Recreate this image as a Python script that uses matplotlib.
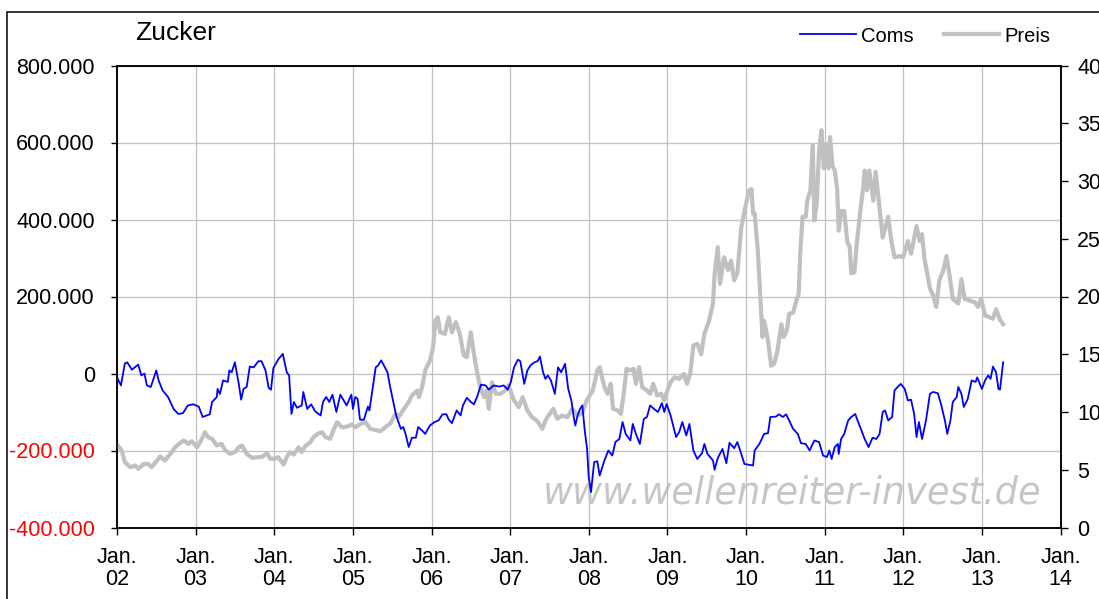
import matplotlib
matplotlib.use("Agg")
import matplotlib.pyplot as plt
from matplotlib.lines import Line2D
from matplotlib.patches import Rectangle
import pandas as pd

plt.rcParams['font.family'] = ['Liberation Sans', 'DejaVu Sans']

title = 'Zucker'
watermark = 'www.wellenreiter-invest.de'

# Commitments (Coms), decimal year / value in thousands of contracts
coms_t = [2002.00, 2002.05, 2002.10, 2002.13, 2002.19, 2002.27, 2002.31, 2002.35, 2002.38, 2002.43,
          2002.50, 2002.53, 2002.58, 2002.65, 2002.72, 2002.78, 2002.84, 2002.90, 2002.97, 2003.04,
          2003.09, 2003.14, 2003.18, 2003.21, 2003.27, 2003.28, 2003.31, 2003.35, 2003.41, 2003.43,
          2003.46, 2003.50, 2003.55, 2003.58, 2003.61, 2003.65, 2003.69, 2003.74, 2003.80, 2003.84,
          2003.89, 2003.93, 2003.96, 2003.99, 2004.05, 2004.11, 2004.16, 2004.19, 2004.22, 2004.25,
          2004.29, 2004.35, 2004.37, 2004.42, 2004.47, 2004.52, 2004.59, 2004.62, 2004.66, 2004.70,
          2004.74, 2004.79, 2004.84, 2004.92, 2004.98, 2005.00, 2005.03, 2005.06, 2005.09, 2005.14,
          2005.19, 2005.21, 2005.29, 2005.32, 2005.36, 2005.44, 2005.47, 2005.52, 2005.55, 2005.61,
          2005.64, 2005.67, 2005.71, 2005.75, 2005.80, 2005.83, 2005.88, 2005.92, 2005.98, 2006.04,
          2006.09, 2006.14, 2006.19, 2006.22, 2006.26, 2006.32, 2006.37, 2006.40, 2006.45, 2006.50,
          2006.54, 2006.58, 2006.63, 2006.69, 2006.73, 2006.79, 2006.86, 2006.92, 2006.97, 2007.01,
          2007.05, 2007.10, 2007.13, 2007.18, 2007.22, 2007.26, 2007.31, 2007.35, 2007.38, 2007.42,
          2007.45, 2007.48, 2007.52, 2007.57, 2007.61, 2007.65, 2007.70, 2007.74, 2007.78, 2007.81,
          2007.83, 2007.86, 2007.89, 2007.92, 2007.95, 2007.98, 2008.00, 2008.03, 2008.07, 2008.11,
          2008.14, 2008.20, 2008.25, 2008.30, 2008.34, 2008.39, 2008.43, 2008.47, 2008.53, 2008.56,
          2008.60, 2008.65, 2008.70, 2008.74, 2008.78, 2008.83, 2008.88, 2008.93, 2008.96, 2008.99,
          2009.04, 2009.11, 2009.15, 2009.19, 2009.24, 2009.28, 2009.33, 2009.38, 2009.44, 2009.47,
          2009.51, 2009.58, 2009.60, 2009.64, 2009.70, 2009.75, 2009.79, 2009.85, 2009.89, 2009.94,
          2009.98, 2010.09, 2010.11, 2010.17, 2010.23, 2010.28, 2010.31, 2010.38, 2010.42, 2010.47,
          2010.51, 2010.54, 2010.60, 2010.66, 2010.70, 2010.76, 2010.81, 2010.87, 2010.93, 2010.98,
          2011.03, 2011.06, 2011.09, 2011.13, 2011.17, 2011.18, 2011.21, 2011.25, 2011.30, 2011.34,
          2011.39, 2011.42, 2011.47, 2011.51, 2011.56, 2011.61, 2011.66, 2011.70, 2011.74, 2011.77,
          2011.81, 2011.86, 2011.89, 2011.93, 2011.97, 2012.02, 2012.06, 2012.10, 2012.14, 2012.17,
          2012.20, 2012.24, 2012.29, 2012.34, 2012.38, 2012.44, 2012.48, 2012.53, 2012.56, 2012.60,
          2012.63, 2012.68, 2012.70, 2012.74, 2012.77, 2012.82, 2012.87, 2012.92, 2012.94, 2013.00,
          2013.04, 2013.08, 2013.11, 2013.14, 2013.18, 2013.21, 2013.23, 2013.27]
coms_k = [-10, -31, 26, 29, 10, 23, -5, 0, -31, -35,
          8, -18, -44, -61, -92, -105, -103, -83, -80, -86,
          -113, -109, -106, -74, -61, -40, -53, -18, -22, 8,
          3, 29, -27, -68, -40, -35, 18, 16, 32, 32,
          8, -37, -42, 14, 36, 51, 3, -5, -105, -74,
          -89, -83, -48, -92, -80, -98, -109, -74, -61, -74,
          -55, -100, -55, -83, -55, -92, -61, -66, -120, -120,
          -86, -96, 16, 21, 34, 3, -31, -79, -109, -144,
          -139, -157, -191, -167, -167, -139, -148, -157, -135, -126,
          -122, -106, -106, -120, -129, -96, -109, -83, -63, -74,
          -80, -61, -29, -31, -42, -31, -34, -31, -42, -22,
          16, 36, 32, -27, 8, 21, 29, 32, 44, 3,
          -14, -5, -18, -53, 16, 3, 25, -40, -70, -113,
          -135, -109, -92, -83, -148, -195, -267, -308, -230, -228,
          -265, -226, -200, -213, -178, -170, -126, -157, -174, -131,
          -157, -183, -118, -113, -83, -92, -100, -77, -100, -79,
          -109, -165, -152, -126, -161, -131, -200, -222, -207, -183,
          -209, -226, -250, -220, -196, -233, -180, -194, -178, -209,
          -235, -239, -200, -183, -157, -155, -113, -112, -106, -113,
          -106, -118, -144, -157, -181, -183, -200, -174, -178, -213,
          -217, -200, -222, -191, -183, -209, -170, -157, -122, -113,
          -105, -122, -148, -170, -191, -167, -170, -157, -100, -96,
          -122, -113, -44, -35, -27, -40, -70, -68, -105, -165,
          -126, -170, -122, -53, -48, -51, -79, -122, -157, -122,
          -74, -61, -35, -53, -87, -66, -18, -22, -10, -40,
          -18, -5, -14, 18, 3, -40, -42, 29]

# Price (Preis), US cents per pound
preis_t = [2002.01, 2002.06, 2002.10, 2002.17, 2002.23, 2002.27, 2002.34, 2002.40, 2002.44, 2002.51,
           2002.55, 2002.61, 2002.68, 2002.74, 2002.80, 2002.85, 2002.91, 2002.95, 2003.02, 2003.08,
           2003.12, 2003.16, 2003.21, 2003.27, 2003.33, 2003.38, 2003.44, 2003.50, 2003.55, 2003.59,
           2003.65, 2003.72, 2003.78, 2003.84, 2003.91, 2003.95, 2004.01, 2004.05, 2004.12, 2004.16,
           2004.20, 2004.25, 2004.31, 2004.35, 2004.39, 2004.46, 2004.50, 2004.55, 2004.61, 2004.65,
           2004.71, 2004.76, 2004.80, 2004.86, 2004.93, 2004.99, 2005.03, 2005.10, 2005.16, 2005.22,
           2005.31, 2005.35, 2005.41, 2005.48, 2005.54, 2005.58, 2005.65, 2005.71, 2005.75, 2005.82,
           2005.84, 2005.88, 2005.92, 2005.98, 2006.02, 2006.05, 2006.08, 2006.11, 2006.17, 2006.22,
           2006.26, 2006.31, 2006.36, 2006.41, 2006.45, 2006.50, 2006.54, 2006.58, 2006.62, 2006.67,
           2006.70, 2006.73, 2006.77, 2006.82, 2006.88, 2006.94, 2006.98, 2007.05, 2007.11, 2007.16,
           2007.22, 2007.28, 2007.35, 2007.41, 2007.45, 2007.49, 2007.55, 2007.60, 2007.66, 2007.73,
           2007.79, 2007.86, 2007.92, 2007.98, 2008.05, 2008.11, 2008.14, 2008.20, 2008.24, 2008.28,
           2008.31, 2008.37, 2008.41, 2008.45, 2008.48, 2008.53, 2008.57, 2008.60, 2008.64, 2008.68,
           2008.74, 2008.78, 2008.82, 2008.87, 2008.92, 2008.96, 2009.00, 2009.04, 2009.09, 2009.15,
           2009.21, 2009.25, 2009.29, 2009.33, 2009.38, 2009.43, 2009.47, 2009.53, 2009.58, 2009.60,
           2009.64, 2009.67, 2009.72, 2009.77, 2009.81, 2009.85, 2009.89, 2009.94, 2010.00, 2010.04,
           2010.07, 2010.09, 2010.11, 2010.15, 2010.18, 2010.21, 2010.23, 2010.28, 2010.32, 2010.36,
           2010.40, 2010.45, 2010.48, 2010.52, 2010.55, 2010.60, 2010.64, 2010.67, 2010.69, 2010.72,
           2010.76, 2010.78, 2010.82, 2010.85, 2010.87, 2010.90, 2010.93, 2010.96, 2010.99, 2011.02,
           2011.05, 2011.07, 2011.10, 2011.13, 2011.16, 2011.18, 2011.21, 2011.25, 2011.29, 2011.32,
           2011.34, 2011.38, 2011.41, 2011.46, 2011.49, 2011.51, 2011.54, 2011.57, 2011.62, 2011.65,
           2011.69, 2011.74, 2011.81, 2011.85, 2011.89, 2011.95, 2012.00, 2012.06, 2012.10, 2012.17,
           2012.21, 2012.24, 2012.27, 2012.34, 2012.38, 2012.42, 2012.46, 2012.51, 2012.55, 2012.59,
           2012.63, 2012.70, 2012.74, 2012.78, 2012.84, 2012.91, 2012.95, 2012.99, 2013.04, 2013.10,
           2013.14, 2013.18, 2013.23, 2013.27]
preis_v = [7.1, 6.67, 5.65, 5.22, 5.37, 5.08, 5.5, 5.5, 5.22, 5.8,
           6.15, 5.8, 6.38, 6.95, 7.3, 7.53, 7.24, 7.47, 6.95, 7.68,
           8.25, 7.82, 7.68, 7.1, 7.24, 6.67, 6.38, 6.52, 6.95, 7.1,
           6.38, 6.03, 6.09, 6.09, 6.43, 5.95, 5.95, 6.09, 5.45, 6.09,
           6.52, 6.32, 6.95, 6.52, 7.01, 7.39, 7.82, 8.11, 8.25, 7.82,
           7.68, 8.54, 9.12, 8.68, 8.74, 8.92, 8.68, 8.98, 9.12, 8.54,
           8.4, 8.34, 8.68, 9.03, 9.84, 9.55, 10.28, 10.85, 11.43, 11.86,
           11.28, 12.15, 13.6, 14.46, 15.6, 17.9, 18.2, 16.9, 16.77, 18.2,
           16.9, 17.78, 16.77, 14.9, 14.75, 16.9, 15.04, 13.45, 12.15, 11.28,
           11.86, 10.28, 12.58, 11.58, 11.58, 11.86, 12.29, 11.0, 10.42, 11.28,
           10.13, 9.55, 9.2, 8.54, 9.26, 9.7, 10.28, 9.41, 9.7, 9.55,
           10.28, 9.7, 9.9, 11.1, 11.8, 13.6, 13.88, 12.15, 11.58, 12.44,
           10.28, 10.13, 9.84, 11.86, 13.74, 13.6, 13.74, 12.44, 13.88, 12.15,
           11.86, 11.58, 12.44, 11.43, 11.58, 11.0, 11.86, 12.58, 13.01, 12.87,
           13.3, 12.44, 13.3, 15.76, 15.9, 15.0, 16.77, 17.9, 19.4, 21.9,
           24.27, 21.1, 23.4, 22.3, 23.1, 21.4, 22.0, 26.0, 28.0, 29.2,
           29.3, 27.2, 27.2, 24.0, 20.2, 16.5, 17.9, 16.2, 14.0, 14.2,
           15.3, 17.6, 16.5, 17.1, 18.5, 18.6, 19.65, 20.2, 23.7, 26.9,
           26.9, 28.3, 29.2, 33.1, 26.6, 28.0, 32.6, 34.4, 31.1, 33.2,
           31.1, 33.8, 31.3, 30.9, 29.3, 25.7, 27.4, 27.4, 24.7, 24.3,
           22.0, 22.1, 24.6, 27.7, 29.3, 30.9, 29.2, 30.9, 28.3, 30.8,
           28.3, 25.1, 26.9, 24.8, 23.4, 23.5, 23.4, 24.8, 23.7, 26.1,
           24.8, 25.4, 23.3, 20.7, 20.1, 19.1, 21.4, 22.25, 23.5, 21.8,
           19.8, 19.4, 21.5, 19.8, 19.65, 19.5, 19.1, 19.8, 18.35, 18.2,
           18.07, 18.9, 17.98, 17.6]

years = list(range(2002, 2015))
left_ticks = [-400000, -200000, 0, 200000, 400000, 600000, 800000]
right_ticks = [0, 5, 10, 15, 20, 25, 30, 35, 40]


def to_dates(ts):
    out = []
    for t in ts:
        y = int(t)
        start = pd.Timestamp(year=y, month=1, day=1)
        days = (pd.Timestamp(year=y + 1, month=1, day=1) - start).days
        out.append(start + pd.Timedelta(days=(t - y) * days))
    return out


def fmt_de(v):
    return f"{int(v):,}".replace(",", ".")


fig = plt.figure(figsize=(10.99, 5.99), dpi=100)
# outer chart frame, runs off the right and bottom edge like the original
fig.patches.append(Rectangle((7 / 1099, -0.1), 1.2, 1.1 - 12 / 599,
                             transform=fig.transFigure, fill=False,
                             edgecolor='black', lw=1.1, zorder=0))
ax = fig.add_axes([117 / 1099, 1 - 527.5 / 599, (1060.5 - 117) / 1099, (527.5 - 65.5) / 599])
ax2 = ax.twinx()

coms_dates = to_dates(coms_t)
preis_dates = to_dates(preis_t)
coms = [v * 1000 for v in coms_k]

ax.set_xlim(pd.Timestamp('2002-01-01'), pd.Timestamp('2014-01-01'))
ax.set_ylim(-400000, 800000)
ax2.set_ylim(0, 40)

ax.grid(True, color='#c0c0c0', lw=0.9)
ax.set_axisbelow(True)

ax.text(0.716, 0.075, watermark, transform=ax.transAxes, ha='center', va='center',
        fontsize=26.5, style='italic', family='DejaVu Sans', color='#c6c6c6', zorder=0.5)

ax2.plot(preis_dates, preis_v, color='#c0c0c0', lw=3.0, solid_joinstyle='round', zorder=2)
ax2.plot(coms_dates, coms, color='#0000ff', lw=1.3, transform=ax.transData, zorder=3)

ax.set_xticks([pd.Timestamp(f'{y}-01-01') for y in years])
ax.set_xticklabels([f"Jan.\n{y % 100:02d}" for y in years], linespacing=1.05)
ax.set_yticks(left_ticks)
ax.set_yticklabels([fmt_de(v) for v in left_ticks])
ax2.set_yticks(right_ticks)

ax.tick_params(axis='both', labelsize=15.5, direction='out', width=1.0, colors='black')
ax.tick_params(axis='y', length=4, pad=12)
ax.tick_params(axis='x', length=5, pad=9)
for lab, v in zip(ax.get_yticklabels(), left_ticks):
    lab.set_color('red' if v < 0 else 'black')
ax2.tick_params(axis='y', labelsize=15.5, direction='out', length=5, width=1.0, pad=7)

for a in (ax, ax2):
    for s in a.spines.values():
        s.set_linewidth(1.1)
        s.set_color('black')

fig.text(135 / 1099, 1 - 33 / 599, title, fontsize=19, ha='left', va='center')

handles = [Line2D([], [], color='#0000ff', lw=1.3), Line2D([], [], color='#c0c0c0', lw=3.0)]
fig.legend(handles, ['Coms', 'Preis'], loc='center right', bbox_to_anchor=(1050 / 1099, 1 - 36 / 599),
           ncol=2, frameon=False, fontsize=14.5, handlelength=2.75, columnspacing=1.5,
           handletextpad=0.25, borderpad=0, borderaxespad=0)

fig.savefig('out.png', dpi=100)
